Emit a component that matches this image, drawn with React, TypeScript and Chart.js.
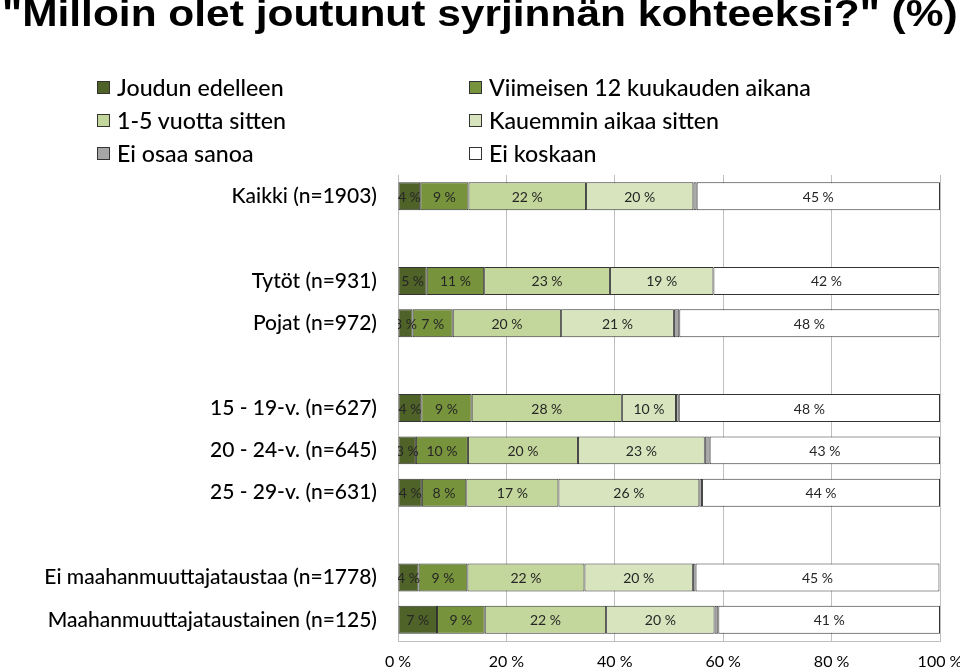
import React, { useEffect, useLayoutEffect, useRef, useState } from 'react';
import { Chart, registerables } from 'chart.js';

Chart.register(...registerables);

const titleText = '"Milloin olet joutunut syrjinnän kohteeksi?" (%)';

const categories = [
  'Kaikki (n=1903)',
  '',
  'Tytöt (n=931)',
  'Pojat (n=972)',
  '',
  '15 - 19-v. (n=627)',
  '20 - 24-v. (n=645)',
  '25 - 29-v. (n=631)',
  '',
  'Ei maahanmuuttajataustaa (n=1778)',
  'Maahanmuuttajataustainen (n=125)',
];

const seriesNames = [
  'Joudun edelleen',
  'Viimeisen 12 kuukauden aikana',
  '1-5 vuotta sitten',
  'Kauemmin aikaa sitten',
  'Ei osaa sanoa',
  'Ei koskaan',
];

const joudunEdelleen = [4.1, null, 5.3, 2.7, null, 4.3, 3.3, 4.4, null, 3.8, 7.2];
const viimeisen12kk = [8.9, null, 10.6, 7.4, null, 9.3, 9.6, 8.2, null, 9.0, 8.8];
const vuotta1to5 = [21.7, null, 23.2, 20.0, null, 27.7, 20.3, 17.0, null, 21.6, 22.4];
const kauemmin = [19.8, null, 19.1, 20.8, null, 10.0, 23.4, 26.0, null, 20.0, 20.0];
const eiOsaaSanoa = [0.6, null, 0, 1.0, null, 0.5, 0.9, 0.5, null, 0.5, 0.7];
const eiKoskaan = [44.9, null, 41.7, 48.0, null, 48.2, 42.5, 43.9, null, 45.0, 40.9];

const seriesValues = [joudunEdelleen, viimeisen12kk, vuotta1to5, kauemmin, eiOsaaSanoa, eiKoskaan];
const seriesColors = ['#4f6228', '#77933c', '#c3d69b', '#d7e4bd', '#a6a6a6', '#ffffff'];
const labelledSeries = [true, true, true, true, false, true];

const xTicks = [0, 20, 40, 60, 80, 100];

const FONT = 'Lato, "Open Sans", sans-serif';

const barLabels = {
  id: 'barLabels',
  afterDatasetsDraw(chart: any) {
    const { ctx, chartArea } = chart;
    ctx.save();
    ctx.beginPath();
    ctx.rect(chartArea.left, chartArea.top, chartArea.right - chartArea.left, chartArea.bottom - chartArea.top);
    ctx.clip();
    ctx.font = `14px ${FONT}`;
    ctx.fillStyle = '#262626';
    ctx.textAlign = 'center';
    ctx.textBaseline = 'middle';
    chart.data.datasets.forEach((ds: any, i: number) => {
      if (!labelledSeries[i]) return;
      const meta = chart.getDatasetMeta(i);
      meta.data.forEach((el: any, j: number) => {
        const v = ds.data[j];
        if (v == null || v === 0) return;
        const c = el.getCenterPoint();
        ctx.fillText(`${Math.round(v)} %`, c.x, c.y + 1);
      });
    });
    ctx.restore();
  },
};

export default function App() {
  const canvasRef = useRef<HTMLCanvasElement>(null);
  const titleRef = useRef<HTMLDivElement>(null);
  const [titleScale, setTitleScale] = useState(1);

  useLayoutEffect(() => {
    if (titleRef.current) {
      const w = titleRef.current.scrollWidth;
      if (w > 0) setTitleScale(956 / w);
    }
  }, []);

  useEffect(() => {
    if (!canvasRef.current) return;
    const chart = new Chart(canvasRef.current, {
      type: 'bar',
      data: {
        labels: categories,
        datasets: seriesNames.map((name, i) => ({
          label: name,
          data: seriesValues[i] as any,
          backgroundColor: seriesColors[i],
          borderColor: '#333333',
          borderWidth: 1,
          borderSkipped: false,
          categoryPercentage: 1,
          barPercentage: 0.66,
        })),
      },
      options: {
        indexAxis: 'y',
        animation: false,
        responsive: false,
        maintainAspectRatio: false,
        layout: { padding: { top: 175, right: 20, bottom: 0, left: 0 } },
        plugins: {
          legend: { display: false },
          title: { display: false },
          tooltip: { enabled: false },
        },
        scales: {
          x: {
            type: 'linear',
            stacked: true,
            min: 0,
            max: 100,
            afterBuildTicks: (scale: any) => {
              scale.ticks = xTicks.map((v) => ({ value: v }));
            },
            afterFit: (scale: any) => {
              scale.height = 27;
              scale.paddingLeft = 0;
              scale.paddingRight = 0;
            },
            grid: { color: '#bfbfbf', lineWidth: 1, drawTicks: false },
            border: { display: true, color: '#bfbfbf', width: 1 },
            ticks: {
              padding: 11,
              color: '#000000',
              font: { family: FONT, size: 16 },
              callback: (v: any) => `${v} %`,
              maxRotation: 0,
              autoSkip: false,
            },
          },
          y: {
            stacked: true,
            afterFit: (scale: any) => {
              scale.width = 398;
              scale.paddingTop = 0;
              scale.paddingBottom = 0;
            },
            grid: { display: false, drawTicks: false },
            border: { display: true, color: '#bfbfbf', width: 1 },
            ticks: {
              padding: 21,
              color: '#000000',
              font: { family: FONT, size: 21, weight: '500' },
              autoSkip: false,
            },
          },
        },
      },
      plugins: [barLabels],
    });
    return () => chart.destroy();
  }, []);

  const legendItem = (i: number, left: number, top: number) => (
    <div
      key={i}
      style={{ position: 'absolute', left, top, height: 26, display: 'flex', alignItems: 'center', whiteSpace: 'nowrap' }}
    >
      <span
        style={{
          display: 'inline-block',
          width: 11,
          height: 11,
          background: seriesColors[i],
          border: '1px solid #333333',
          marginRight: 7,
        }}
      />
      <span style={{ font: `500 23.2px ${FONT}`, color: '#000' }}>{seriesNames[i]}</span>
    </div>
  );

  return (
    <div style={{ position: 'absolute', left: 0, top: 0, width: 960, height: 668, overflow: 'hidden', background: '#fff' }}>
      <canvas ref={canvasRef} width={960} height={668} style={{ position: 'absolute', left: 0, top: 0 }} />
      <div
        ref={titleRef}
        style={{
          position: 'absolute',
          left: 2,
          top: -4.6,
          whiteSpace: 'nowrap',
          font: 'bold 37px "Liberation Sans", Arial, sans-serif',
          lineHeight: '37px',
          color: '#000',
          transformOrigin: '0 0',
          transform: `scaleX(${titleScale})`,
          display: 'inline-block',
        }}
      >
        {titleText}
      </div>
      {legendItem(0, 97, 74)}
      {legendItem(2, 97, 107)}
      {legendItem(4, 97, 140)}
      {legendItem(1, 469, 74)}
      {legendItem(3, 469, 107)}
      {legendItem(5, 469, 140)}
    </div>
  );
}
